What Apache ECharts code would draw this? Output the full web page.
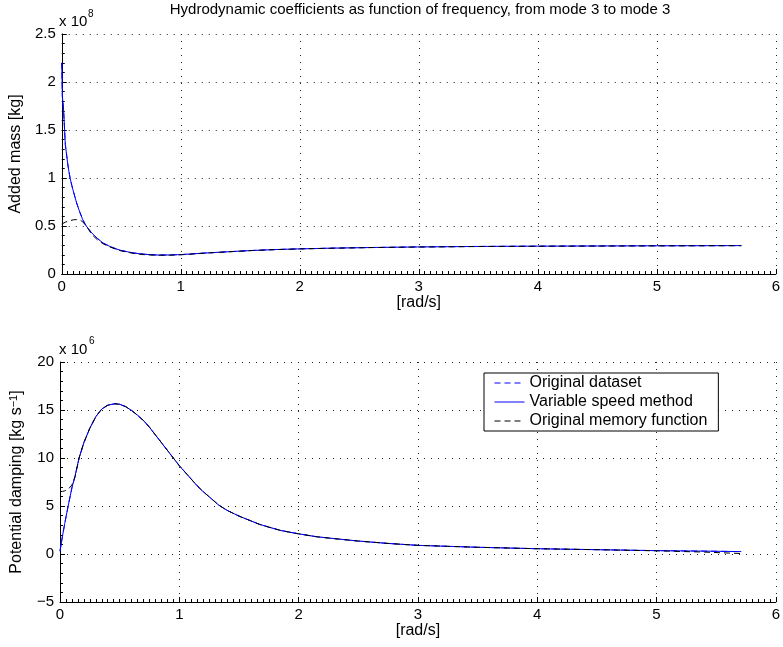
<!DOCTYPE html>
<html><head><meta charset="utf-8">
<script src="https://cdn.jsdelivr.net/npm/echarts@6/dist/echarts.min.js"></script>
<style>html,body{margin:0;padding:0;background:#fff}#c{width:783px;height:647px}</style>
</head><body><div id="c"></div>
<script>
// ---- Data (added mass in units of 1e8 kg, damping in units of 1e6 kg/s) ----
const seriesNames = ['Original dataset', 'Variable speed method', 'Original memory function'];
const xTicks = [0, 1, 2, 3, 4, 5, 6];

const freqTop = [0, 0.005, 0.015, 0.03, 0.04, 0.05, 0.06, 0.07, 0.085, 0.1, 0.125, 0.15, 0.175, 0.2, 0.225, 0.25, 0.3, 0.35, 0.4, 0.46, 0.5, 0.55, 0.6, 0.65, 0.7, 0.8, 0.9, 1.0, 1.1, 1.2, 1.4, 1.6, 1.8, 2.0, 2.3, 2.6, 3.0, 3.5, 4.0, 4.5, 5.0, 5.4, 5.71];
const addedMassOriginal = [2.2, 1.85, 1.72, 1.35, 1.25, 1.15, 1.07, 1.0, 0.92, 0.85, 0.74, 0.65, 0.57, 0.51, 0.47, 0.43, 0.37, 0.32, 0.29, 0.26, 0.245, 0.232, 0.22, 0.212, 0.205, 0.198, 0.198, 0.202, 0.21, 0.218, 0.232, 0.245, 0.255, 0.262, 0.27, 0.276, 0.282, 0.287, 0.29, 0.292, 0.294, 0.295, 0.296];
const addedMassVariable = [2.2, 1.85, 1.72, 1.35, 1.25, 1.15, 1.07, 1.0, 0.92, 0.85, 0.74, 0.65, 0.57, 0.51, 0.47, 0.43, 0.37, 0.32, 0.29, 0.26, 0.245, 0.232, 0.22, 0.212, 0.205, 0.198, 0.198, 0.202, 0.21, 0.218, 0.232, 0.245, 0.255, 0.262, 0.27, 0.276, 0.282, 0.287, 0.29, 0.292, 0.294, 0.295, 0.296];
const addedMassMemory = [0.52, 0.525, 0.53, 0.54, 0.545, 0.55, 0.553, 0.556, 0.56, 0.565, 0.567, 0.565, 0.545, 0.51, 0.465, 0.415, 0.355, 0.313, 0.284, 0.255, 0.24, 0.228, 0.215, 0.207, 0.2, 0.195, 0.196, 0.2, 0.208, 0.217, 0.231, 0.244, 0.254, 0.261, 0.269, 0.275, 0.281, 0.286, 0.289, 0.291, 0.293, 0.294, 0.295];

const freqBottom = [0, 0.02, 0.04, 0.07, 0.1, 0.125, 0.16, 0.2, 0.25, 0.3, 0.35, 0.4, 0.46, 0.5, 0.55, 0.6, 0.65, 0.7, 0.75, 0.8, 0.85, 0.9, 0.95, 1.0, 1.05, 1.1, 1.15, 1.2, 1.27, 1.33, 1.4, 1.5, 1.6, 1.67, 1.75, 1.85, 2.0, 2.15, 2.3, 2.5, 2.75, 3.0, 3.25, 3.5, 4.0, 4.5, 5.0, 5.4, 5.71];
const dampingOriginal = [0.3, 1.8, 3.2, 5.1, 6.9, 8.05, 10.0, 11.6, 13.1, 14.3, 15.1, 15.5, 15.65, 15.6, 15.35, 14.95, 14.45, 13.9, 13.2, 12.4, 11.6, 10.8, 10.0, 9.2, 8.5, 7.8, 7.1, 6.5, 5.75, 5.1, 4.55, 3.95, 3.45, 3.1, 2.8, 2.45, 2.1, 1.8, 1.6, 1.35, 1.1, 0.9, 0.8, 0.7, 0.55, 0.45, 0.35, 0.3, 0.25];
const dampingVariable = [0.3, 1.8, 3.2, 5.1, 6.9, 8.05, 10.0, 11.6, 13.1, 14.3, 15.1, 15.5, 15.65, 15.6, 15.35, 14.95, 14.45, 13.9, 13.2, 12.4, 11.6, 10.8, 10.0, 9.2, 8.5, 7.8, 7.1, 6.5, 5.75, 5.1, 4.55, 3.95, 3.45, 3.1, 2.8, 2.45, 2.1, 1.8, 1.6, 1.35, 1.1, 0.9, 0.8, 0.7, 0.55, 0.45, 0.35, 0.3, 0.25];
const dampingMemory = [6.5, 6.52, 6.58, 6.75, 7.2, 8.0, 10.0, 11.6, 13.1, 14.3, 15.1, 15.5, 15.65, 15.6, 15.35, 14.95, 14.45, 13.9, 13.2, 12.4, 11.6, 10.8, 10.0, 9.2, 8.5, 7.8, 7.1, 6.5, 5.75, 5.1, 4.55, 3.95, 3.45, 3.1, 2.8, 2.45, 2.1, 1.8, 1.6, 1.35, 1.1, 0.9, 0.8, 0.7, 0.55, 0.45, 0.33, 0.2, 0.05];

// ---- Chart ----
const FONT = '"Liberation Sans", Arial, Helvetica, sans-serif';
const FS = 15;      // tick labels, title
const FSN = 16;     // axis names
const zip = (xs, ys) => xs.map((x, i) => [x, ys[i]]);

function xAxisCfg(gi) {
  return {
    type: 'value', gridIndex: gi, min: xTicks[0], max: xTicks[xTicks.length - 1], interval: 1,
    name: '[rad/s]', nameLocation: 'middle', nameGap: 20,
    nameTextStyle: { color: '#000', fontSize: FSN, fontFamily: FONT },
    axisLine: { show: true, onZero: false, lineStyle: { color: '#000', width: 1 } },
    axisTick: { show: true, inside: true, length: 5, lineStyle: { color: '#000' } },
    minorTick: { show: true, splitNumber: 20, length: 3, lineStyle: { color: '#000' } },
    axisLabel: { color: '#000', fontSize: FS, margin: 5, fontFamily: FONT },
    splitLine: { show: true, lineStyle: { color: '#222', type: [1, 6], width: 1 } }
  };
}
function yAxisCfg(gi, min, max, interval, name, rich, nameGap) {
  return {
    type: 'value', gridIndex: gi, min: min, max: max, interval: interval,
    name: name, nameLocation: 'middle', nameGap: nameGap, nameRotate: 90,
    nameTextStyle: { color: '#000', fontSize: FSN, fontFamily: FONT, rich: rich },
    axisLine: { show: true, onZero: false, lineStyle: { color: '#000', width: 1 } },
    axisTick: { show: true, inside: true, length: 5, lineStyle: { color: '#000' } },
    minorTick: { show: true, splitNumber: 5, length: 3, lineStyle: { color: '#000' } },
    axisLabel: { color: '#000', fontSize: FS, margin: 6, fontFamily: FONT,
      formatter: v => (v < 0 ? '\u2212' + Math.abs(v) : String(v)) },
    splitLine: { show: true, lineStyle: { color: '#222', type: [1, 6], width: 1 } }
  };
}
const styles = [
  { color: '#0000ff', type: [6, 4] },
  { color: '#0000ff', type: 'solid' },
  { color: '#000000', type: [6, 4] }
];
function lineSeries(idx, gi, data) {
  return {
    name: seriesNames[idx], type: 'line', xAxisIndex: gi, yAxisIndex: gi,
    data: data, symbol: 'none', smooth: false,
    itemStyle: { color: styles[idx].color },
    lineStyle: { color: styles[idx].color, width: 1, type: styles[idx].type },
    animation: false, z: 2 + idx
  };
}

const chart = echarts.init(document.getElementById('c'), null, { renderer: 'canvas' });
chart.setOption({
  backgroundColor: '#fff',
  animation: false,
  textStyle: { fontFamily: FONT },
  grid: [
    { left: 60, top: 34, width: 720, height: 240 },
    { left: 60, top: 362, width: 720, height: 240 }
  ],
  xAxis: [xAxisCfg(0), xAxisCfg(1)],
  yAxis: [
    yAxisCfg(0, 0, 2.5, 0.5, 'Added mass [kg]', {}, 34),
    yAxisCfg(1, -5, 20, 5, '{a|Potential damping [kg s}{b|\u22121}{a|]}',
      { a: { fontSize: FSN, fontFamily: FONT, color: '#000', lineHeight: 18 },
        b: { fontSize: 11, fontFamily: FONT, color: '#000', verticalAlign: 'top', lineHeight: 11 } }, 34)
  ],
  legend: {
    data: seriesNames, orient: 'vertical', left: 484, top: 373,
    itemWidth: 30, itemHeight: 14, itemGap: 3, padding: [2, 11, 2, 10],
    borderColor: '#000', borderWidth: 1, backgroundColor: '#fff',
    itemStyle: { opacity: 0 },
    lineStyle: { width: 1 },
    textStyle: { fontSize: 16, color: '#000', fontFamily: FONT },
    selectedMode: false
  },
  graphic: [
    { type: 'text', x: 420, y: 10, style: { text: 'Hydrodynamic coefficients as function of frequency, from mode 3 to mode 3', fill: '#000', font: FS + 'px ' + FONT, align: 'center', verticalAlign: 'middle' } },
    { type: 'text', x: 59, y: 22, style: { text: 'x 10', fill: '#000', font: FS + 'px ' + FONT, align: 'left', verticalAlign: 'middle' } },
    { type: 'text', x: 88, y: 14, style: { text: '8', fill: '#000', font: '10px ' + FONT, align: 'left', verticalAlign: 'middle' } },
    { type: 'text', x: 59, y: 350, style: { text: 'x 10', fill: '#000', font: FS + 'px ' + FONT, align: 'left', verticalAlign: 'middle' } },
    { type: 'text', x: 89, y: 341, style: { text: '6', fill: '#000', font: '10px ' + FONT, align: 'left', verticalAlign: 'middle' } }
  ],
  series: [
    lineSeries(0, 0, zip(freqTop, addedMassOriginal)),
    lineSeries(1, 0, zip(freqTop, addedMassVariable)),
    lineSeries(2, 0, zip(freqTop, addedMassMemory)),
    lineSeries(0, 1, zip(freqBottom, dampingOriginal)),
    lineSeries(1, 1, zip(freqBottom, dampingVariable)),
    lineSeries(2, 1, zip(freqBottom, dampingMemory))
  ]
});
</script></body></html>
